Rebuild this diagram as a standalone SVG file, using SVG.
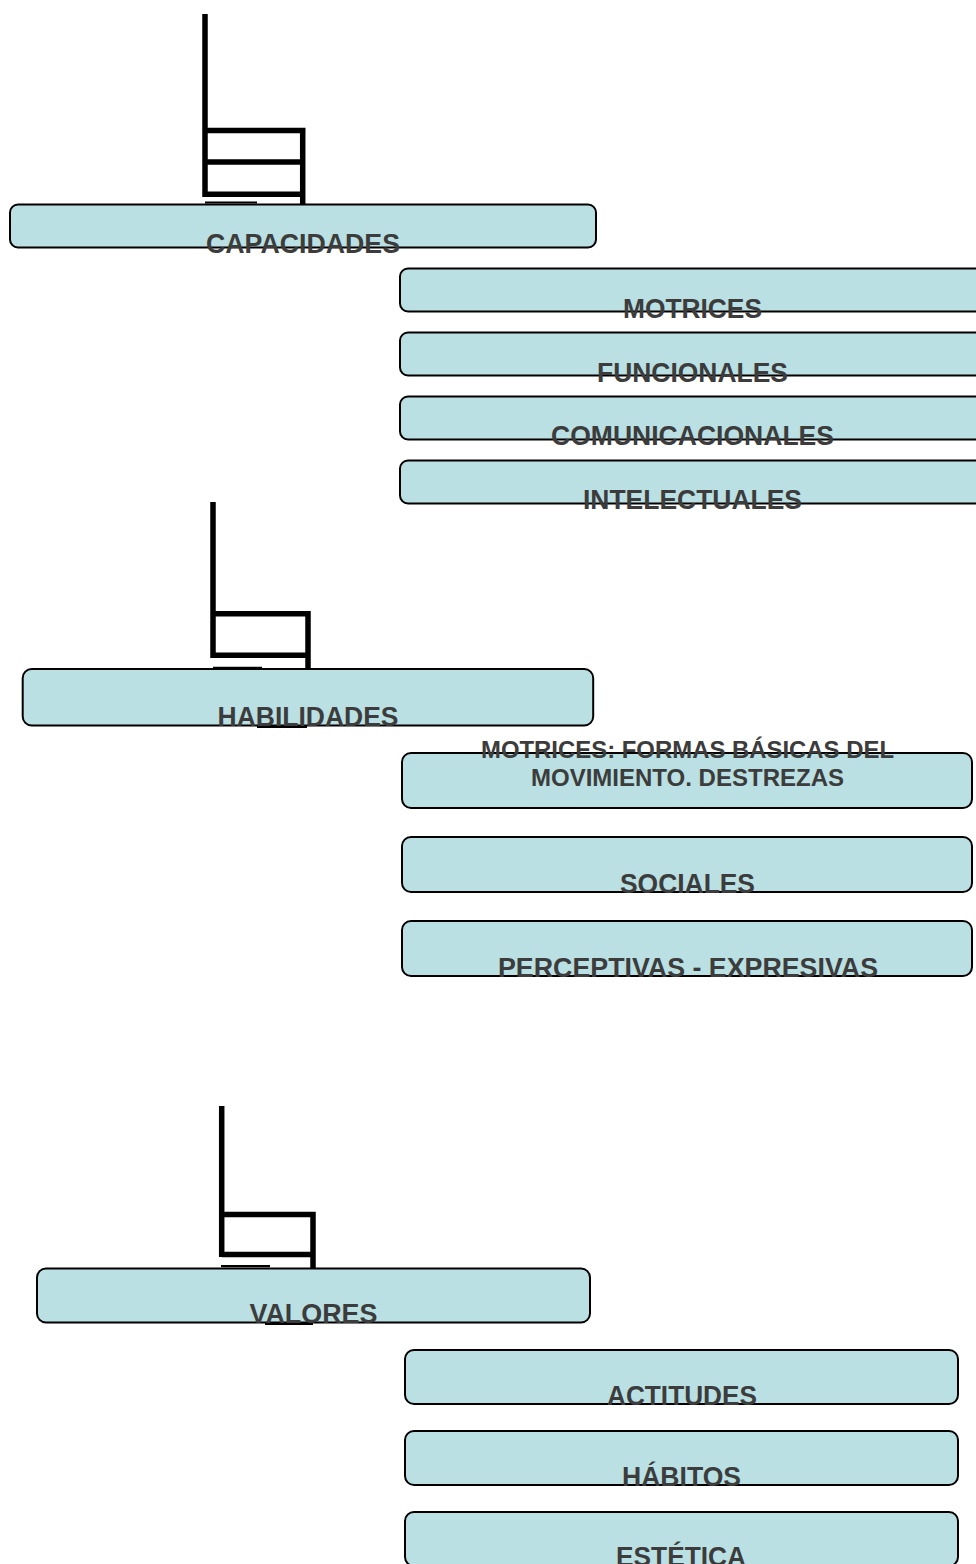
<svg xmlns="http://www.w3.org/2000/svg" width="976" height="1564" viewBox="0 0 976 1564">
<style>
.box{fill:#bae0e3;stroke:#000;stroke-width:2}
.t{font-family:"Liberation Sans",Arial,sans-serif;font-weight:bold;font-size:27px;fill:#3c3c3c;text-anchor:middle}
.s{font-size:23px}
.c{fill:none;stroke:#000;stroke-width:5.5;stroke-linecap:butt}
.u{fill:none;stroke:#000;stroke-width:2.2}
</style>
<rect width="976" height="1564" fill="#fff"/>
<g id="connectors">
<path class="c" d="M205,14 V197 M205,130.5 H305.5 M302.7,128 V204.5 M205,162 H302.7 M205,194.2 H302.7"/>
<path class="u" d="M205,202.5 H257"/>
<path class="c" d="M213,502 V658 M213,613.7 H310.7 M308,611 V669 M213,655.3 H308"/>
<path class="u" d="M213,667.8 H262 M257,727 H307"/>
<path class="c" d="M221.7,1106 V1257 M221.7,1214.5 H315.7 M313,1212 V1268.5 M221.7,1254.5 H313"/>
<path class="u" d="M221,1266.2 H270 M265,1324 H313"/>
</g>
<g id="capacidades"><rect class="box" x="10" y="204.5" width="586" height="43" rx="8"/><text class="t" x="303" y="253" textLength="194" lengthAdjust="spacingAndGlyphs">CAPACIDADES</text></g>
<g id="motrices"><rect class="box" x="400" y="268.5" width="586" height="43" rx="8"/><text class="t" x="692.5" y="318" textLength="139" lengthAdjust="spacingAndGlyphs">MOTRICES</text></g>
<g id="funcionales"><rect class="box" x="400" y="332.5" width="586" height="43" rx="8"/><text class="t" x="692.5" y="382" textLength="191" lengthAdjust="spacingAndGlyphs">FUNCIONALES</text></g>
<g id="comunicacionales"><rect class="box" x="400" y="396.5" width="586" height="43" rx="8"/><text class="t" x="692.5" y="445" textLength="283" lengthAdjust="spacingAndGlyphs">COMUNICACIONALES</text></g>
<g id="intelectuales"><rect class="box" x="400" y="460.5" width="586" height="43" rx="8"/><text class="t" x="692.5" y="509" textLength="219" lengthAdjust="spacingAndGlyphs">INTELECTUALES</text></g>
<g id="habilidades"><rect class="box" x="22.7" y="669" width="570.5" height="56.5" rx="9"/><text class="t" x="308" y="726" textLength="181" lengthAdjust="spacingAndGlyphs">HABILIDADES</text></g>
<g id="motrices-formas"><rect class="box" x="402" y="753" width="570" height="55" rx="9"/><text class="t s" x="687.5" y="758" textLength="413" lengthAdjust="spacingAndGlyphs">MOTRICES: FORMAS BÁSICAS DEL</text><text class="t s" x="687.5" y="786" textLength="313" lengthAdjust="spacingAndGlyphs">MOVIMIENTO. DESTREZAS</text></g>
<g id="sociales"><rect class="box" x="402" y="837" width="570" height="55" rx="9"/><text class="t" x="687.5" y="893" textLength="135" lengthAdjust="spacingAndGlyphs">SOCIALES</text></g>
<g id="perceptivas"><rect class="box" x="402" y="921" width="570" height="55" rx="9"/><text class="t" x="688" y="977" textLength="380" lengthAdjust="spacingAndGlyphs">PERCEPTIVAS - EXPRESIVAS</text></g>
<g id="valores"><rect class="box" x="37" y="1268.5" width="553" height="54" rx="9"/><text class="t" x="313.5" y="1323" textLength="128" lengthAdjust="spacingAndGlyphs">VALORES</text></g>
<g id="actitudes"><rect class="box" x="405" y="1350" width="553" height="54" rx="9"/><text class="t" x="682" y="1405" textLength="150" lengthAdjust="spacingAndGlyphs">ACTITUDES</text></g>
<g id="habitos"><rect class="box" x="405" y="1431" width="553" height="54" rx="9"/><text class="t" x="681.5" y="1486" textLength="119" lengthAdjust="spacingAndGlyphs">HÁBITOS</text></g>
<g id="estetica"><rect class="box" x="405" y="1512" width="553" height="54" rx="9"/><text class="t" x="681" y="1566" textLength="130" lengthAdjust="spacingAndGlyphs">ESTÉTICA</text></g>
</svg>
